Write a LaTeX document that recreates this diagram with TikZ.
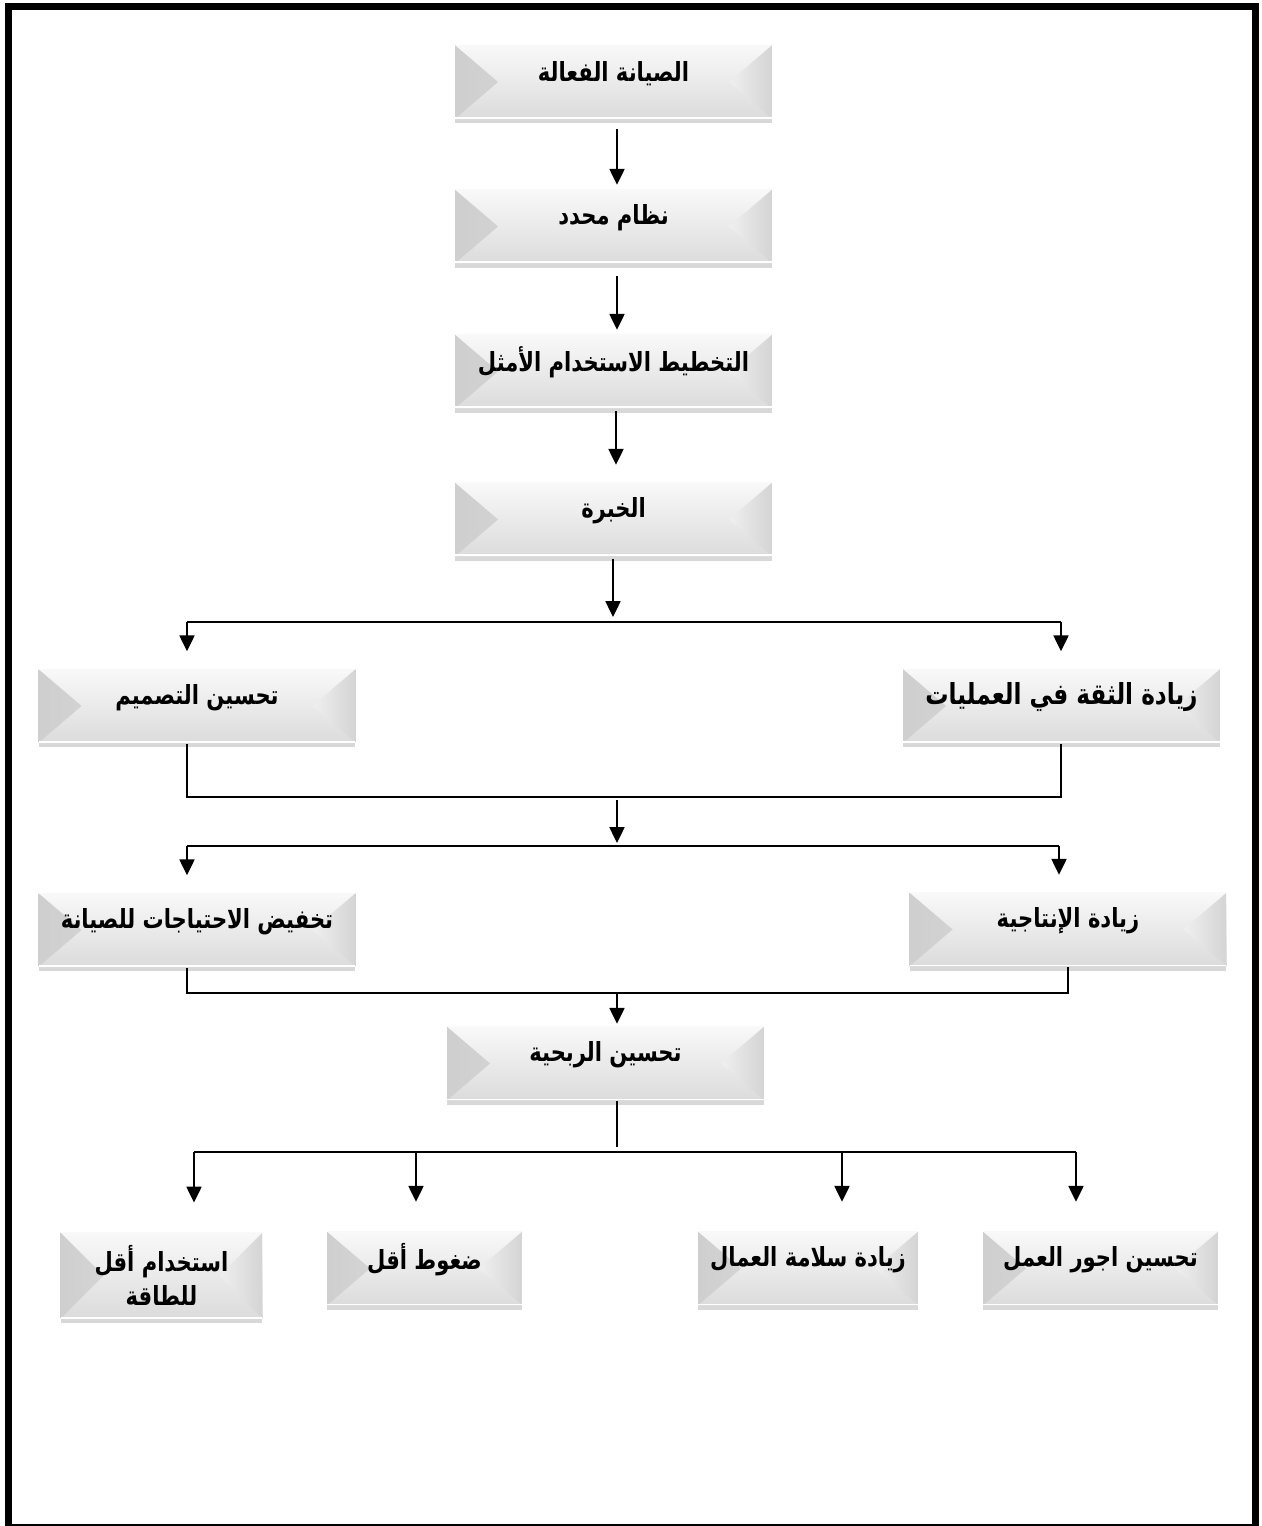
\documentclass[tikz,border=0pt]{standalone}
\usepackage{fontspec}
\newfontfamily\arabicfont[Script=Arabic]{DejaVu Sans}
\TeXXeTstate=1
\usetikzlibrary{arrows.meta,calc,shadows}
\newcommand\artxt[1]{\raisebox{5pt}[\height][\depth]{\scalebox{0.8}[1]{\beginR #1\endR}}}

\begin{document}
\begin{tikzpicture}[x=0.02cm, y=-0.02cm, font=\arabicfont\bfseries\fontsize{15}{19}\selectfont, line width=1.1pt,
  arr/.style={-{Triangle[length=9pt,width=8.5pt]}},
  bevel/.style={rectangle, inner sep=0pt, minimum width=6.34cm, minimum height=1.47cm, top color=gray!5, bottom color=gray!28,
    drop shadow={shadow xshift=0pt, shadow yshift=-2.5pt, opacity=.3},
    path picture={
      \shade[left color=gray!38, right color=gray!17] (path picture bounding box.north west) -- ([xshift=0.86cm]path picture bounding box.west) -- (path picture bounding box.south west) -- cycle;
      \shade[right color=gray!34, left color=gray!12] (path picture bounding box.north east) -- ([xshift=-0.86cm]path picture bounding box.east) -- (path picture bounding box.south east) -- cycle;
      \draw[white, line width=1pt] ([yshift=0.5pt]path picture bounding box.south west) -- ([yshift=0.5pt]path picture bounding box.south east);}}]
	\useasboundingbox (0,0) rectangle (1262,1526);
	\fill[white] (0,0) rectangle (1262,1526);
	\draw[line width=3.97pt] (8.5,6.5) rectangle (1255.5,1527);
    \node[bevel] (n1) at (613.5,82) {\artxt{الصيانة الفعالة}};
    \node[bevel] (n2) at (613.5,226.5) {\artxt{نظام محدد}};
    \node[bevel] (n3) at (613.5,371.5) {\artxt{التخطيط الاستخدام الأمثل}};
    \node[bevel] (n4) at (613.5,519.5) {\artxt{الخبرة}};
    \node[bevel] (n5) at (197,706) {\artxt{تحسين التصميم}};
    \node[bevel, font=\arabicfont\bfseries\fontsize{16.5}{20}\selectfont] (n6) at (1061.5,706) {\artxt{زيادة الثقة في العمليات}};
    \node[bevel] (n7) at (197,930) {\artxt{تخفيض الاحتياجات للصيانة}};
    \node[bevel] (n8) at (1068,929.5) {\artxt{زيادة الإنتاجية}\hspace{14pt}};
    \node[bevel] (n9) at (605.5,1063.5) {\artxt{تحسين الربحية}};
    \node[bevel, minimum width=4.04cm, minimum height=1.72cm, align=center] (n10) at (161.5,1275.5) {\scalebox{0.8}[1]{\beginR استخدام أقل\endR}\\\scalebox{0.8}[1]{\beginR للطاقة\endR}};
    \node[bevel, minimum width=3.9cm] (n11) at (424.5,1268.5) {\artxt{ضغوط أقل}};
    \node[bevel, minimum width=4.4cm] (n12) at (808,1268.5) {\artxt{زيادة سلامة العمال}};
    \node[bevel, minimum width=4.7cm] (n13) at (1100.5,1268.5) {\artxt{تحسين اجور العمل}\hspace{18pt}};
    \coordinate (j1) at (613,622);
    \coordinate (j2) at (617,797);
    \coordinate (j3) at (617,846);
    \coordinate (j4) at (617,993);
    \coordinate (j5) at (617,1152);
    \coordinate (b1) at (187,622);
    \coordinate (b2) at (1061,622);
    \coordinate (c1) at (187,846);
    \coordinate (c2) at (1059,846);
    \draw[arr] ($(n1.south)+(3.5,9)$) -- ($(n2.north)+(3.5,-4)$);
    \draw[arr] ($(n2.south)+(3.5,12)$) -- ($(n3.north)+(3.5,-4)$);
    \draw[arr] ($(n3.south)+(2.5,2)$) -- ($(n4.north)+(2.5,-17)$);
    \draw[arr] ($(n4.south)+(-0.5,2)$) -- ($(j1)+(0,-5)$);
    \draw (b1) -- (b2);
    \draw[arr] (b1) -- ($(b1 |- n5.north)+(0,-17)$);
    \draw[arr] (b2) -- ($(b2 |- n6.north)+(0,-17)$);
    \draw (b1 |- n5.south) -- (b1 |- j2) -- (b2 |- j2) -- (b2 |- n6.south);
    \draw[arr] ($(j2)+(0,3)$) -- ($(j3)+(0,-3)$);
    \draw (c1) -- (c2);
    \draw[arr] (c1) -- ($(c1 |- n7.north)+(0,-17)$);
    \draw[arr] (c2) -- ($(c2 |- n8.north)+(0,-17)$);
    \draw (c1 |- n7.south) -- (c1 |- j4) -- (n8.south |- j4) -- (n8.south);
    \draw[arr] (j4) -- ($(j4 |- n9.north)+(0,-2)$);
    \draw (j5 |- n9.south) -- ($(j5)+(0,-5)$);
    \coordinate (d1) at (194,1152);
    \coordinate (d2) at (416,1152);
    \coordinate (d3) at (842,1152);
    \coordinate (d4) at (1076,1152);
    \draw (d1) -- (d4);
    \foreach \d/\n in {d1/n10,d2/n11,d3/n12,d4/n13}
      \draw[arr] (\d) -- ($(\d |- \n.north)+(0,-29)$);
\end{tikzpicture}
\end{document}
